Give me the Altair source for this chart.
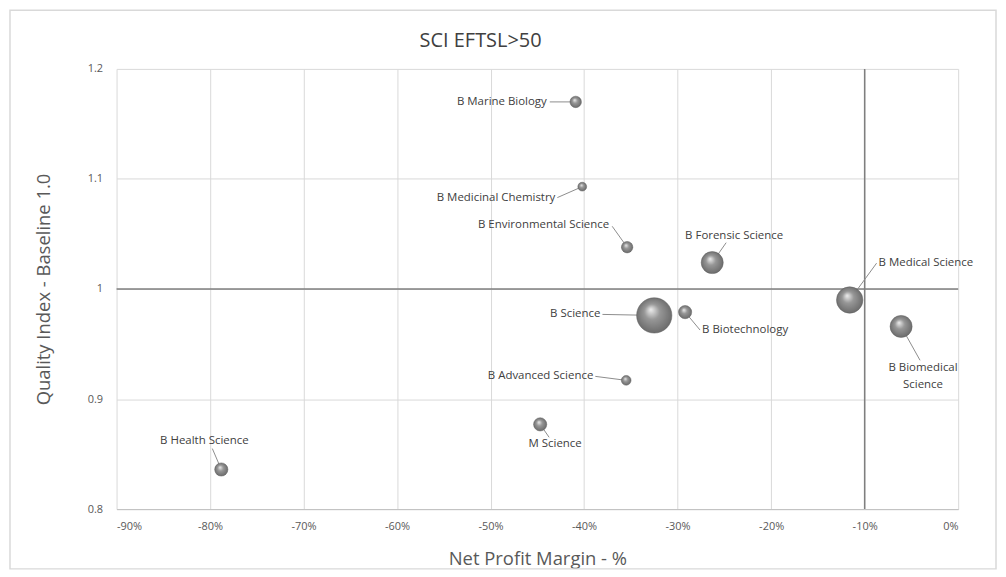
import altair as alt
import pandas as pd

# ---- data ----
programs = [
    "B Marine Biology", "B Medicinal Chemistry", "B Environmental Science",
    "B Forensic Science", "B Medical Science", "B Science", "B Biotechnology",
    "B Biomedical Science", "B Advanced Science", "M Science", "B Health Science",
]
net_profit_margin = [-0.409, -0.402, -0.354, -0.263, -0.116, -0.325, -0.292,
                     -0.061, -0.355, -0.447, -0.788]
quality_index = [1.170, 1.093, 1.038, 1.024, 0.990, 0.976, 0.979,
                 0.966, 0.917, 0.877, 0.836]
eftsl = [105, 62, 105, 390, 560, 1000, 140, 390, 76, 140, 140]

baseline_quality = [1.0]
reference_margin = [-0.10]
x_ticks = [-0.9, -0.8, -0.7, -0.6, -0.5, -0.4, -0.3, -0.2, -0.1, 0]
y_ticks = [0.8, 0.9, 1.0, 1.1, 1.2]

df = pd.DataFrame({
    "program": programs,
    "label": [p.replace("Biomedical ", "Biomedical\n") for p in programs],
    "npm": net_profit_margin,
    "qi": quality_index,
    "eftsl": eftsl,
})

# ---- label placement (pixel offsets; style only) ----
# name: (dx, dy, align, leader_end_dx, leader_end_dy)
label_style = {
    "B Marine Biology": (-29, 0, "right", -26, 0),
    "B Medicinal Chemistry": (-27, 11, "right", -25, 11),
    "B Environmental Science": (-18, -22, "right", -15, -21),
    "B Forensic Science": (22, -27, "center", 14, -20),
    "B Medical Science": (29, -37, "left", 27, -37),
    "B Science": (-54, -1, "right", -52, -1),
    "B Biotechnology": (17, 18, "left", 15, 18),
    "B Biomedical Science": (22, 42, "center", 19, 34),
    "B Advanced Science": (-33, -4, "right", -31, -4),
    "M Science": (15, 20, "center", 9, 13),
    "B Health Science": (-17, -29, "center", -9, -21),
}

FONT = "Open Sans"
W, H = 845, 442

x_scale = alt.Scale(domain=[-0.9, 0], nice=False, zero=False)
y_scale = alt.Scale(domain=[0.8, 1.2], nice=False, zero=False)
x_axis_def = alt.Axis(format=".0%", values=x_ticks, labelExpr="replace(datum.label, '\u2212', '-')",
                      tickSize=0, labelPadding=11, titlePadding=19,
                      domainColor="#bfbfbf", gridColor="#d9d9d9")
y_axis_def = alt.Axis(format="~g", values=y_ticks, tickSize=0, labelPadding=14, titlePadding=34,
                      domain=False, gridColor="#d9d9d9")


def X(field="npm"):
    return alt.X(f"{field}:Q", title="Net Profit Margin - %", scale=x_scale, axis=x_axis_def)


def Y(field="qi"):
    return alt.Y(f"{field}:Q", title="Quality Index - Baseline 1.0", scale=y_scale, axis=y_axis_def)


base = alt.Chart(df)
layers = []

# outer chart frame (decoration)
frame = alt.Chart(pd.DataFrame({"f": [0]})).mark_rect(
    filled=False, stroke="#d9d9d9", strokeWidth=1.5
).encode(x=alt.value(-107), x2=alt.value(883), y=alt.value(-59), y2=alt.value(502))
layers.append(frame)

# reference lines
hline = alt.Chart(pd.DataFrame({"qi": baseline_quality})).mark_rule(
    color="#7f7f7f", strokeWidth=1.5).encode(y=Y())
vline = alt.Chart(pd.DataFrame({"npm": reference_margin})).mark_rule(
    color="#7f7f7f", strokeWidth=1.5).encode(x=X())
layers += [hline, vline]

# leader lines and labels
for name, (dx, dy, align, lx, ly) in label_style.items():
    sub = base.transform_filter(alt.datum.program == name)
    leader = sub.mark_rule(color="#8c8c8c", strokeWidth=1, x2Offset=lx, y2Offset=ly).encode(
        x=X(), y=Y(), x2="npm:Q", y2="qi:Q")
    text = sub.mark_text(align=align, baseline="middle", dx=dx, dy=dy, font=FONT,
                         fontSize=11.5, color="#404040", lineBreak="\n", lineHeight=17).encode(
        x=X(), y=Y(), text="label:N")
    layers += [leader, text]

# bubbles
sphere = alt.RadialGradient(
    gradient="radial",
    stops=[alt.GradientStop(color="#eeeeee", offset=0),
           alt.GradientStop(color="#979797", offset=0.4),
           alt.GradientStop(color="#666666", offset=1)],
    x1=0.4, y1=0.33, r1=0, x2=0.5, y2=0.5, r2=0.55,
)
bubbles = base.mark_circle(color=sphere, opacity=1, stroke="#5f5f5f", strokeWidth=0.5).encode(
    x=X(), y=Y(),
    size=alt.Size("eftsl:Q", scale=alt.Scale(domain=[0, 1000], range=[0, 1257]), legend=None),
)
layers.append(bubbles)

chart = alt.layer(*layers).properties(
    width=W, height=H,
    title=alt.TitleParams("SCI EFTSL>50", font=FONT, fontSize=20, fontWeight="normal",
                          color="#404040", anchor="middle", frame="group", dx=-57, offset=-42),
    autosize=alt.AutoSizeParams(type="none"),
    padding={"left": 109, "top": 60, "right": 40, "bottom": 62},
).configure_view(stroke=None).configure_axis(
    labelFont=FONT, labelFontSize=11, labelColor="#595959",
    titleFont=FONT, titleFontSize=18.5, titleFontWeight="normal", titleColor="#595959",
    gridWidth=1,
)

chart.save("out.html", embed_options={"renderer": "svg", "actions": False})
